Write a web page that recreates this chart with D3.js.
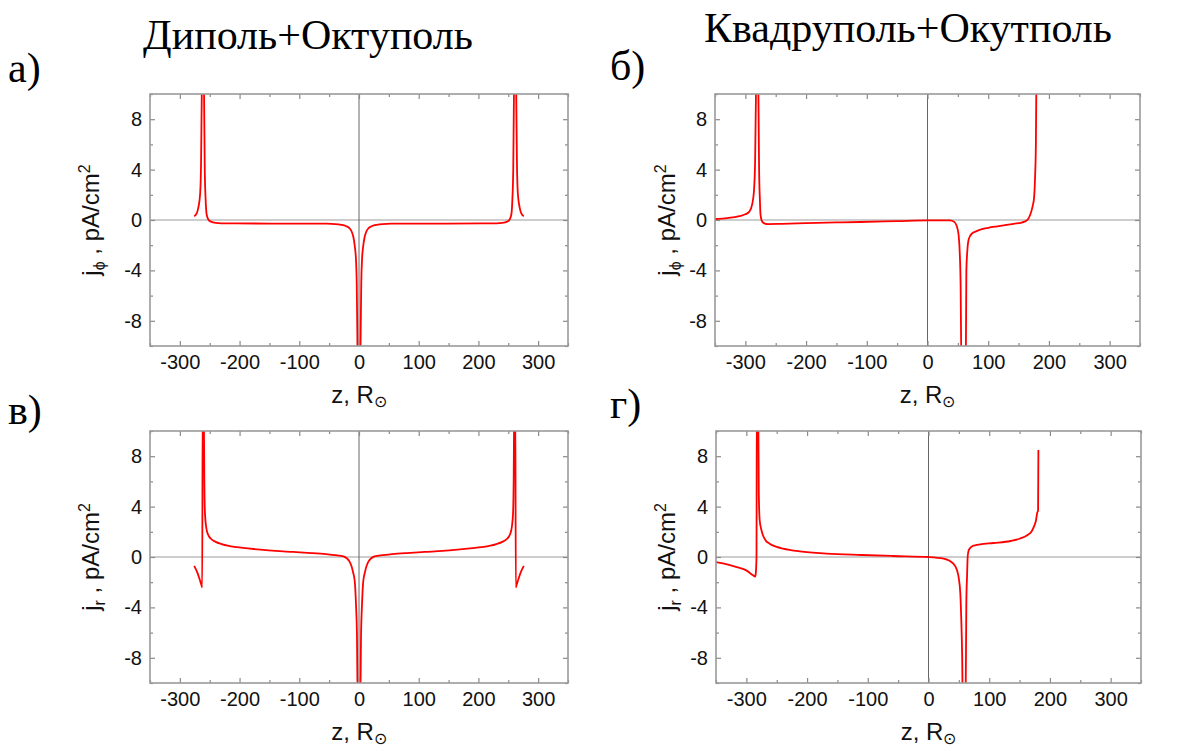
<!DOCTYPE html>
<html>
<head>
<meta charset="utf-8">
<script src="https://cdn.jsdelivr.net/npm/d3@7"></script>
<style>
	body { margin: 0; background: #fff; }
	svg { display: block; }
</style>
</head>
<body>
<div id="chart"></div>
<script>
// data: z in solar radii, j in pA/cm^2
const zA = [-276, -272, -269, -266, -264.5, -263.3, -261.5, -259.5, -258.3, -257, -255, -251, -248, -240, -220, -150, -80, -54, -40, -30, -22, -16, -12, -9.5, -7, -5, -3.8, -2.8, -1.5,
	1.5, 2.8, 3.8, 5, 7, 9.5, 12, 16, 22, 30, 40, 54, 80, 150, 220, 240, 248, 251, 255, 257, 258.3, 259.5, 261.5, 263.3, 264.5, 266, 269, 272, 276];
const jA = [0.3, 0.5, 1.0, 2.1, 4.5, 10, 14, 10, 4, 1.8, 0.4, -0.05, -0.13, -0.22, -0.27, -0.28, -0.28, -0.29, -0.32, -0.38, -0.48, -0.65, -0.95, -1.33, -2.1, -3.2, -5, -9, -14,
	-14, -9, -5, -3.2, -2.1, -1.33, -0.95, -0.65, -0.48, -0.38, -0.32, -0.29, -0.28, -0.28, -0.27, -0.22, -0.13, -0.05, 0.4, 1.8, 4, 10, 14, 10, 4.5, 2.1, 1.0, 0.5, 0.3];

const zB = [-350, -330, -310, -300, -293, -289, -286, -284, -282.5, -280.5, -278.5, -277.5, -276, -275, -272, -268, -263, -240, -200, -150, -111, -50, 0, 37, 44, 47.5, 51, 53, 54.5, 56,
	63, 64, 65.5, 68, 73.5, 80, 87, 100, 115, 142, 155, 162, 166, 169, 173, 175.6, 177, 178.5, 179.5];
const jB = [0.08, 0.15, 0.3, 0.45, 0.7, 1.2, 2.2, 4.5, 10, 13, 10, 4.5, 1.5, 0.4, -0.15, -0.28, -0.32, -0.3, -0.25, -0.19, -0.16, -0.09, -0.03, -0.03, -0.15, -0.4, -1.1, -2.5, -5, -12,
	-12, -4, -2.5, -1.5, -1.06, -0.9, -0.76, -0.62, -0.5, -0.3, -0.2, -0.08, 0.1, 0.4, 1.06, 1.8, 3.2, 6, 12];

const zC = [-276, -271, -267, -264, -262.6, -261.8, -260, -259, -258, -256, -253, -248, -240, -230, -220, -205, -190, -165, -140, -110, -80, -55, -40, -26, -16, -10, -7, -5, -3.5, -2,
	2, 3.5, 5, 7, 10, 16, 26, 40, 55, 80, 110, 140, 165, 190, 205, 220, 230, 240, 248, 253, 256, 258, 259, 260, 261.8, 262.6, 264, 267, 271, 276];
const jC = [-0.7, -1.2, -1.75, -2.2, -2.4, 12, 12, 6, 3.5, 2.4, 1.8, 1.45, 1.2, 1.03, 0.9, 0.78, 0.7, 0.58, 0.48, 0.4, 0.31, 0.22, 0.15, 0.05, -0.35, -1.2, -2, -3.8, -6, -12,
	-12, -6, -3.8, -2, -1.2, -0.35, 0.05, 0.15, 0.22, 0.31, 0.4, 0.48, 0.58, 0.7, 0.78, 0.9, 1.03, 1.2, 1.45, 1.8, 2.4, 3.5, 6, 12, 12, -2.4, -2.2, -1.75, -1.2, -0.7];

const zD = [-350, -330, -316, -300, -289, -285.5, -284.5, -283.3, -282.8, -280.5, -279.5, -278, -275, -272.7, -268, -261.7, -250, -239.7, -212, -168, -110, -58, 0, 25, 41, 47, 49.6, 52.4, 54, 55.5, 56.5,
	61, 62.3, 63.5, 64.5, 66, 68, 72, 77, 85, 107, 135, 150, 162.6, 170, 174, 177, 179, 180.5, 181];
const jD = [-0.4, -0.6, -0.8, -1.06, -1.45, -1.55, -1.3, 0, 12, 12, 5, 2.9, 2.1, 1.72, 1.3, 1.06, 0.8, 0.67, 0.45, 0.27, 0.16, 0.08, 0, -0.13, -0.53, -1.06, -1.6, -2.9, -5, -8, -12,
	-12, -3.7, -1.5, 0, 0.5, 0.68, 0.85, 0.93, 1.0, 1.11, 1.27, 1.45, 1.72, 2.05, 2.45, 2.9, 3.5, 3.7, 8.5];

const xMajor = [-300, -200, -100, 0, 100, 200, 300];
const xMinor = [-350, -250, -150, -50, 50, 150, 250, 350];
const yMajor = [-8, -4, 0, 4, 8];
const yMinor = [-10, -6, -2, 2, 6, 10];

const titles = ['Диполь+Октуполь', 'Квадруполь+Окутполь'];
const letters = ['а)', 'б)', 'в)', 'г)'];

(() => {
	const W = 1177, H = 751;
	const sans = '"Liberation Sans", Arial, sans-serif';
	const serif = '"Liberation Serif", "Times New Roman", serif';

	const svg = d3.select('#chart').append('svg')
		.attr('width', W)
		.attr('height', H);

	// panel boxes and label spots
	const panels = [
		{ z: zA, j: jA, x0: 150, x1: 568, y0: 94, y1: 346, sub: 'ϕ', yTitleX: 91, letter: [8, 82] },
		{ z: zB, j: jB, x0: 715, x1: 1140, y0: 94, y1: 346, sub: 'ϕ', yTitleX: 667, letter: [610, 80] },
		{ z: zC, j: jC, x0: 150, x1: 568, y0: 431, y1: 683, sub: 'r', yTitleX: 91, letter: [8, 424] },
		{ z: zD, j: jD, x0: 716, x1: 1141, y0: 431, y1: 683, sub: 'r', yTitleX: 667, letter: [610, 418] },
	];

	svg.append('text')
		.attr('x', 308).attr('y', 49)
		.attr('text-anchor', 'middle')
		.style('font-family', serif).style('font-size', '42px')
		.text(titles[0]);
	svg.append('text')
		.attr('x', 908).attr('y', 42)
		.attr('text-anchor', 'middle')
		.style('font-family', serif).style('font-size', '42px')
		.text(titles[1]);

	panels.forEach((p, i) => {
		const x = d3.scaleLinear().domain([-350, 350]).range([p.x0, p.x1]);
		const y = d3.scaleLinear().domain([-10, 10]).range([p.y1, p.y0]);
		const g = svg.append('g');

		const clipId = `clip${i}`;
		g.append('clipPath').attr('id', clipId)
			.append('rect')
			.attr('x', p.x0).attr('y', p.y0)
			.attr('width', p.x1 - p.x0).attr('height', p.y1 - p.y0);

		// zero lines
		g.append('line')
			.attr('x1', p.x0).attr('x2', p.x1)
			.attr('y1', y(0)).attr('y2', y(0))
			.style('stroke', '#bdbdbd').style('stroke-width', 1.5);
		g.append('line')
			.attr('x1', x(0)).attr('x2', x(0))
			.attr('y1', p.y0).attr('y2', p.y1)
			.style('stroke', '#555').style('stroke-width', 0.9);

		const pts = p.z.map((z, k) => ({ z: z, j: p.j[k] }));
		const line = d3.line()
			.x(d => x(d.z))
			.y(d => y(d.j))
			.curve(d3.curveMonotoneX);
		g.append('path')
			.datum(pts)
			.attr('clip-path', `url(#${clipId})`)
			.attr('d', line)
			.style('fill', 'none')
			.style('stroke', '#ff0000')
			.style('stroke-width', 1.8);

		// ticks, all pointing inward
		const addAxis = (axis, tx, ty, labels) => {
			const a = g.append('g')
				.attr('transform', `translate(${tx}, ${ty})`)
				.call(axis);
			a.select('.domain').remove();
			a.selectAll('line').style('stroke', '#8a8a8a').style('stroke-width', 1.2);
			a.selectAll('text')
				.style('font-family', sans)
				.style('font-size', '20px')
				.style('fill', '#111');
			if (!labels) a.selectAll('text').remove();
		};
		const plain = d => String(d);
		addAxis(d3.axisBottom(x).tickValues(xMajor).tickSize(-5).tickPadding(9)
			.tickFormat(plain), 0, p.y1, true);
		addAxis(d3.axisBottom(x).tickValues(xMinor).tickSize(-3), 0, p.y1, false);
		addAxis(d3.axisTop(x).tickValues(xMajor).tickSize(-5), 0, p.y0, false);
		addAxis(d3.axisTop(x).tickValues(xMinor).tickSize(-3), 0, p.y0, false);
		addAxis(d3.axisLeft(y).tickValues(yMajor).tickSize(-5).tickPadding(8)
			.tickFormat(plain), p.x0, 0, true);
		addAxis(d3.axisLeft(y).tickValues(yMinor).tickSize(-3), p.x0, 0, false);
		addAxis(d3.axisRight(y).tickValues(yMajor).tickSize(-5), p.x1, 0, false);
		addAxis(d3.axisRight(y).tickValues(yMinor).tickSize(-3), p.x1, 0, false);

		// frame
		g.append('rect')
			.attr('x', p.x0).attr('y', p.y0)
			.attr('width', p.x1 - p.x0).attr('height', p.y1 - p.y0)
			.style('fill', 'none')
			.style('stroke', '#9a9a9a')
			.style('stroke-width', 1.6);

		// x title
		const xt = g.append('text')
			.attr('x', (p.x0 + p.x1) / 2)
			.attr('y', p.y1 + 57)
			.attr('text-anchor', 'middle')
			.style('font-family', sans)
			.style('font-size', '24px')
			.style('fill', '#111');
		xt.append('tspan').text('z, R');
		xt.append('tspan').attr('dy', 4).style('font-size', '16px').text('⊙');

		// y title
		const cy = (p.y0 + p.y1) / 2;
		const yt = g.append('text')
			.attr('transform', `translate(${p.yTitleX + 8}, ${cy}) rotate(-90)`)
			.attr('text-anchor', 'middle')
			.style('font-family', sans)
			.style('font-size', '24px')
			.style('fill', '#111');
		yt.append('tspan').text('j');
		yt.append('tspan').attr('dy', 6).style('font-size', '16px').text(p.sub);
		yt.append('tspan').attr('dy', -6).text(' , pA/cm');
		yt.append('tspan').attr('dy', -9).style('font-size', '16px').text('2');

		// panel letter
		svg.append('text')
			.attr('x', p.letter[0]).attr('y', p.letter[1])
			.style('font-family', serif)
			.style('font-size', '42px')
			.text(letters[i]);
	});
})();
</script>
</body>
</html>
